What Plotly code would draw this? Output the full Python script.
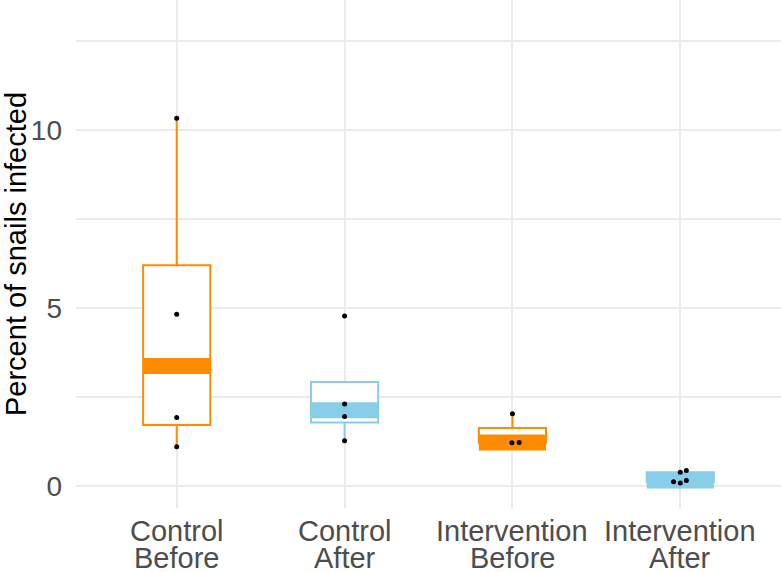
import numpy as np
import plotly.graph_objects as go

# ---- data ----
groups = ["Control Before", "Control After", "Intervention Before", "Intervention After"]
label_top = ["Control", "Control", "Intervention", "Intervention"]
label_bottom = ["Before", "After", "Before", "After"]

control_before = [10.33, 4.82, 1.92, 1.10]
control_after = [4.77, 2.30, 1.95, 1.27]
intervention_before = [2.03, 1.21, 1.22]
intervention_after = [0.385, 0.43, 0.12, 0.085, 0.15]

# horizontal jitter of the points (category units), as seen in the picture
jit_control_before = [0, 0, 0, 0]
jit_control_after = [0, 0, 0, 0]
jit_intervention_before = [0, -0.003, 0.04]
jit_intervention_after = [0, 0.036, -0.04, 0, 0.036]

group_values = [control_before, control_after, intervention_before, intervention_after]
group_jitter = [jit_control_before, jit_control_after, jit_intervention_before, jit_intervention_after]
colors = ["#FF8C00", "#87CEEB", "#FF8C00", "#87CEEB"]

y_ticks = [0, 5, 10]
y_minor = [2.5, 7.5, 12.5]

BOX_HALF = 0.2
GRID = "#EBEBEB"
FONT = "Liberation Sans, Arial, Helvetica, sans-serif"

fig = go.Figure()

# boxes (R type-7 quantiles, whiskers to furthest point within 1.5 IQR)
for i, (vals, col) in enumerate(zip(group_values, colors)):
    v = np.array(vals, dtype=float)
    q1, med, q3 = np.percentile(v, [25, 50, 75])
    iqr = q3 - q1
    lo = v[v >= q1 - 1.5 * iqr].min()
    hi = v[v <= q3 + 1.5 * iqr].max()
    fig.add_trace(go.Box(
        x=[i + 1], q1=[q1], median=[med], q3=[q3],
        lowerfence=[min(lo, q1)], upperfence=[max(hi, q3)],
        width=2 * BOX_HALF, fillcolor="white",
        line=dict(color=col, width=2), whiskerwidth=0,
        showlegend=False, hoverinfo="skip", boxpoints=False,
    ))

# thick median bands
for i, (vals, col) in enumerate(zip(group_values, colors)):
    med = float(np.median(vals))
    fig.add_trace(go.Scatter(
        x=[i + 1 - BOX_HALF, i + 1 + BOX_HALF], y=[med, med],
        mode="lines", line=dict(color=col, width=16),
        showlegend=False, hoverinfo="skip",
    ))

# points
for i, (vals, jit) in enumerate(zip(group_values, group_jitter)):
    fig.add_trace(go.Scatter(
        x=[i + 1 + j for j in jit], y=vals, mode="markers",
        marker=dict(color="black", size=5),
        showlegend=False, hoverinfo="skip",
    ))

# two-line category labels
for i in range(len(groups)):
    fig.add_annotation(x=i + 1, xref="x", y=0, yref="paper", yanchor="middle",
                       yshift=-23, text=label_top[i], showarrow=False,
                       font=dict(family=FONT, size=29, color="#4D4D4D"))
    fig.add_annotation(x=i + 1, xref="x", y=0, yref="paper", yanchor="middle",
                       yshift=-50, text=label_bottom[i], showarrow=False,
                       font=dict(family=FONT, size=29, color="#4D4D4D"))

fig.update_layout(
    width=781, height=572,
    margin=dict(l=76, r=0, t=0, b=64),
    plot_bgcolor="white", paper_bgcolor="white",
    font=dict(family=FONT),
    xaxis=dict(range=[0.4, 4.6], tickvals=[1, 2, 3, 4], showticklabels=False,
               showgrid=True, gridcolor=GRID, gridwidth=2, zeroline=False,
               showline=False, ticks=""),
    yaxis=dict(range=[-0.62, 13.65], tickvals=y_ticks, ticktext=[str(t) for t in y_ticks],
               showgrid=True, gridcolor=GRID, gridwidth=2, zeroline=False,
               showline=False, ticks="", ticklabelstandoff=13,
               tickfont=dict(family=FONT, size=28, color="#4D4D4D"),
               minor=dict(tickvals=y_minor, showgrid=True, gridcolor=GRID, gridwidth=2),
               title=dict(text="Percent of snails infected", standoff=2,
                          font=dict(family=FONT, size=29, color="black"))),
)

fig.write_html("out.html", config={"displayModeBar": False},
               post_script="document.body.style.margin='0';document.body.style.padding='0';")
